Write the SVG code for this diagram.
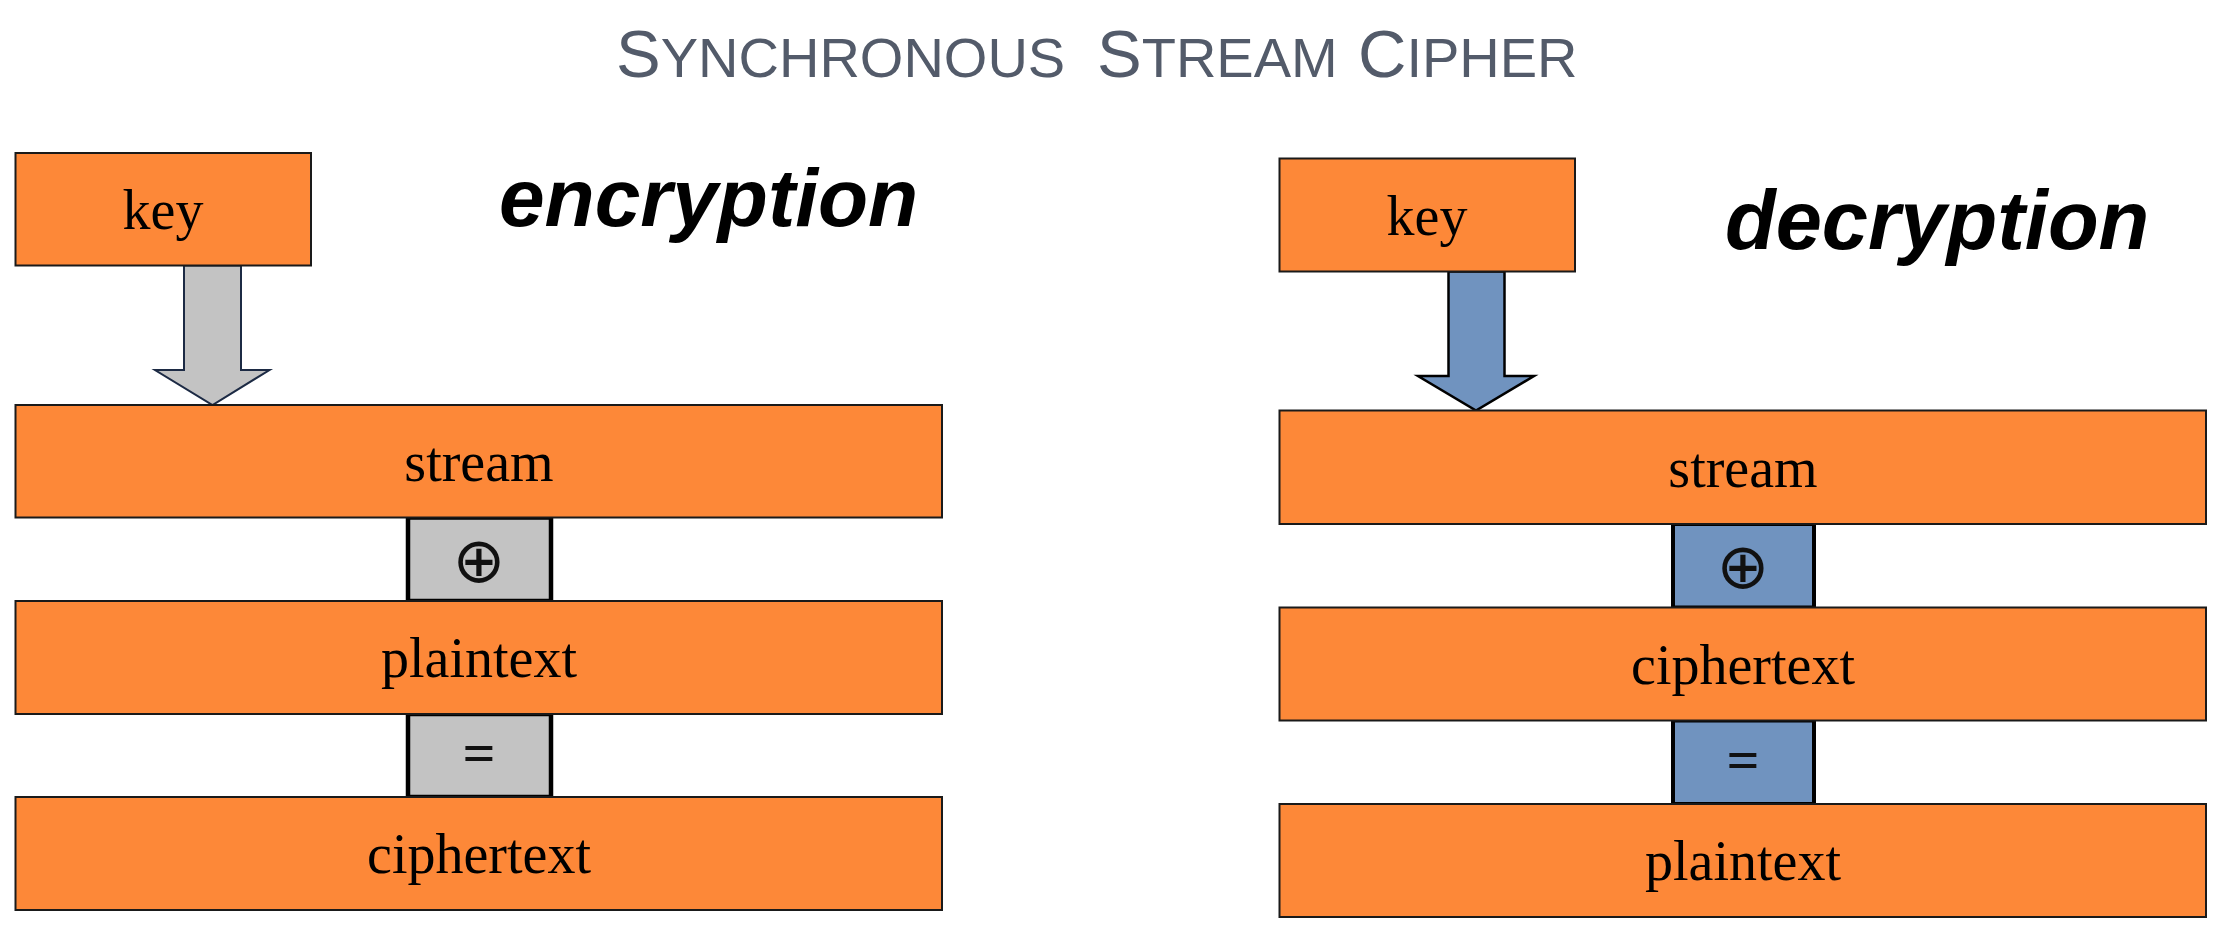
<svg xmlns="http://www.w3.org/2000/svg" width="2219" height="939" viewBox="0 0 2219 939">
<style>
.box{fill:#fd8838;stroke:#1a1a1a;stroke-width:2}
.gray{fill:#c3c3c3;stroke:#000;stroke-width:4.5}
.blue{fill:#7093bf;stroke:#000;stroke-width:4}
.lbl{font-family:"Liberation Serif","Times New Roman",serif;font-size:56px;fill:#000;text-anchor:middle}
.op{font-family:"DejaVu Sans",sans-serif;font-size:63px;fill:#111;text-anchor:middle}
.eq{font-family:"Liberation Serif",serif;font-size:58px;font-weight:bold;fill:#111;text-anchor:middle}
.head{font-family:"Liberation Sans",Arial,sans-serif;font-weight:bold;font-style:italic;fill:#000}
.title{font-family:"Liberation Sans",Arial,sans-serif;fill:#535b6a;font-size:56px}
.cap{font-size:67px}
</style>
<rect width="2219" height="939" fill="#fff"/>
<text class="title" y="77"><tspan x="616" class="cap">S</tspan><tspan>YNCHRONOUS </tspan><tspan x="1097" class="cap">S</tspan><tspan>TREAM </tspan><tspan x="1358" class="cap">C</tspan><tspan>IPHER</tspan></text>
<text class="head" x="499" y="226" font-size="82">encryption</text>
<text class="head" x="1725" y="249" font-size="83">decryption</text>
<g id="connectors">
<polygon points="184,265.5 241,265.5 241,370 269.5,370 212.5,405 155,370 184,370" fill="#c3c3c3" stroke="#1c2a44" stroke-width="2"/>
<polygon points="1448.5,271.5 1504.5,271.5 1504.5,376 1534,376 1476,410.5 1418,376 1448.5,376" fill="#7093bf" stroke="#000" stroke-width="2.5"/>
</g>
<g id="enc-key"><rect class="box" x="15.5" y="153" width="295.5" height="112.5"/><text class="lbl" x="163" y="229">key</text></g>
<g id="enc-xor"><rect class="gray" x="408" y="517.5" width="143" height="83.5"/><text class="op" x="479" y="582">⊕</text></g>
<g id="enc-eq"><rect class="gray" x="408" y="714" width="143" height="83"/><text class="eq" x="479" y="772">=</text></g>
<g id="enc-stream"><rect class="box" x="15.5" y="405" width="926.5" height="112.5"/><text class="lbl" x="479" y="480.5">stream</text></g>
<g id="enc-plain"><rect class="box" x="15.5" y="601" width="926.5" height="113"/><text class="lbl" x="479" y="677">plaintext</text></g>
<g id="enc-cipher"><rect class="box" x="15.5" y="797" width="926.5" height="113"/><text class="lbl" x="479" y="873">ciphertext</text></g>
<g id="dec-key"><rect class="box" x="1279.5" y="158.5" width="295.5" height="113"/><text class="lbl" x="1427" y="235">key</text></g>
<g id="dec-xor"><rect class="blue" x="1673" y="524" width="141" height="83.5"/><text class="op" x="1743" y="588">⊕</text></g>
<g id="dec-eq"><rect class="blue" x="1673" y="720.5" width="141" height="83.5"/><text class="eq" x="1743" y="779">=</text></g>
<g id="dec-stream"><rect class="box" x="1279.5" y="410.5" width="926.5" height="113.5"/><text class="lbl" x="1743" y="486.5">stream</text></g>
<g id="dec-cipher"><rect class="box" x="1279.5" y="607.5" width="926.5" height="113"/><text class="lbl" x="1743" y="683.5">ciphertext</text></g>
<g id="dec-plain"><rect class="box" x="1279.5" y="804" width="926.5" height="113"/><text class="lbl" x="1743" y="880">plaintext</text></g>
</svg>
